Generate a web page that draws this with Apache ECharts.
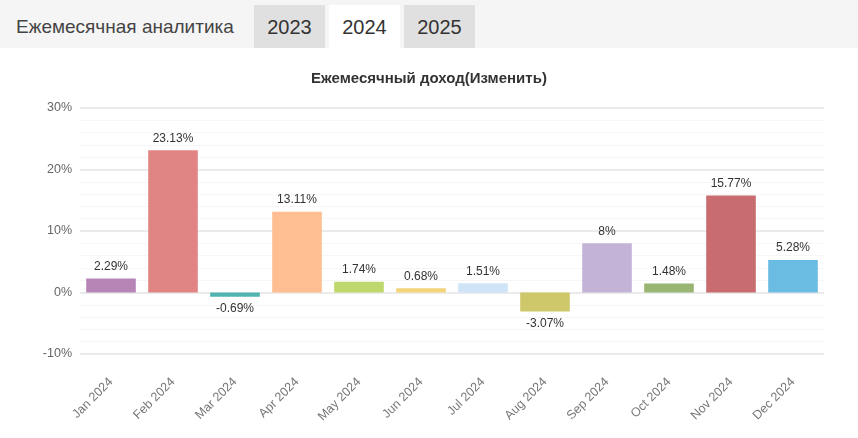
<!DOCTYPE html>
<html lang="ru">
<head>
<meta charset="utf-8">
<title>Ежемесячная аналитика</title>
<script src="https://cdn.jsdelivr.net/npm/echarts@6/dist/echarts.min.js"></script>
<style>
  html, body { margin: 0; padding: 0; background: #fff; font-family: "Liberation Sans", Arial, sans-serif; }
  .top-bar { position: relative; height: 48px; background: #f5f5f5; }
  .top-bar .caption { position: absolute; left: 16px; top: 16px; font-size: 19px; color: #444; }
  .tab { position: absolute; top: 5px; height: 43px; width: 71px; line-height: 45px; text-align: center; font-size: 20px; color: #333; background: #e0e0e0; }
  .tab.active { background: #fff; }
  #main { width: 858px; height: 390px; }
</style>
</head>
<body>
<div class="top-bar">
  <span class="caption">Ежемесячная аналитика</span>
  <div class="tab" style="left:254px">2023</div>
  <div class="tab active" style="left:329px">2024</div>
  <div class="tab" style="left:404px">2025</div>
</div>
<div id="main"></div>
<script>
// данные графика
var months = ['Jan 2024', 'Feb 2024', 'Mar 2024', 'Apr 2024', 'May 2024', 'Jun 2024',
              'Jul 2024', 'Aug 2024', 'Sep 2024', 'Oct 2024', 'Nov 2024', 'Dec 2024'];
var income = [2.29, 23.13, -0.69, 13.11, 1.74, 0.68, 1.51, -3.07, 8, 1.48, 15.77, 5.28];
var barColors = ['#b786b7', '#e08583', '#4fb3b0', '#ffbe91', '#bfd86d', '#f3d47a',
                 '#cfe4f7', '#cfc86a', '#c3b3d6', '#98b574', '#c86c70', '#6bbce3'];
var yTicks = { min: -10, max: 30, step: 10 };

var chart = echarts.init(document.getElementById('main'));

var seriesData = income.map(function (v, i) {
  return {
    value: v,
    itemStyle: { color: barColors[i] },
    label: { position: v < 0 ? 'bottom' : 'top' }
  };
});

chart.setOption({
  animation: false,
  title: {
    text: 'Ежемесячный доход(Изменить)',
    left: 'center',
    top: 18,
    textStyle: { fontFamily: 'Liberation Sans, Arial', fontSize: 15, fontWeight: 'bold', color: '#333' }
  },
  grid: { left: 80, right: 34, top: 60, bottom: 84 },
  xAxis: {
    type: 'category',
    data: months,
    axisLine: { show: false },
    axisTick: { show: false },
    axisLabel: { rotate: 45, margin: 26, color: '#777', fontSize: 12.5, fontFamily: 'Liberation Sans, Arial' }
  },
  yAxis: {
    type: 'value',
    min: yTicks.min,
    max: yTicks.max,
    interval: yTicks.step,
    axisLabel: { formatter: '{value}%', color: '#666', fontSize: 12.5, margin: 8, fontFamily: 'Liberation Sans, Arial' },
    splitLine: { lineStyle: { color: '#ebebeb', width: 2 } },
    minorTick: { show: false, splitNumber: 5 },
    minorSplitLine: { show: true, lineStyle: { color: '#f6f6f6', width: 1 } }
  },
  series: [{
    type: 'bar',
    data: seriesData,
    barCategoryGap: '20%',
    label: {
      show: true,
      color: '#333',
      fontSize: 12,
      fontFamily: 'Liberation Sans, Arial',
      distance: 6,
      formatter: function (p) { return p.value + '%'; }
    }
  }]
});
</script>
</body>
</html>
